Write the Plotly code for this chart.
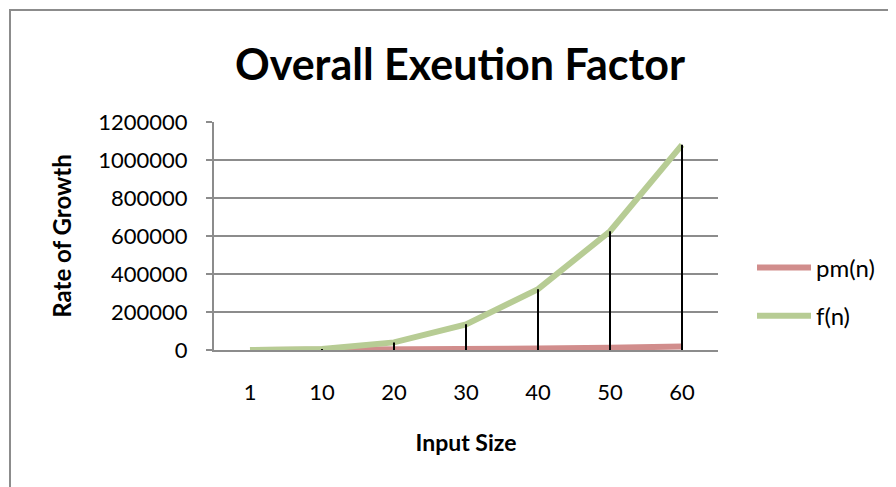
import plotly.graph_objects as go

categories = ["1", "10", "20", "30", "40", "50", "60"]
pm_values = [5, 500, 2000, 4500, 8000, 12500, 18000]
f_values = [5, 5000, 40000, 135000, 320000, 625000, 1080000]
y_ticks = [0, 200000, 400000, 600000, 800000, 1000000, 1200000]

FONT = "Lato"
RED = "rgb(209,141,140)"
GREEN = "rgb(183,204,148)"
GRID = "#8c8c8c"

# the page body adds an 8px offset; figure coords below are target - 8
L, R, T, B = 206, 186, 114, 145
PW, PH = 896 - L - R, 487 - T - B

fig = go.Figure()
fig.add_trace(go.Scatter(x=categories, y=pm_values, mode="lines", name="pm(n)",
                         line=dict(color=RED, width=6), legendgroup="a"))
fig.add_trace(go.Scatter(x=categories, y=f_values, mode="lines", name="f(n)",
                         line=dict(color=GREEN, width=6), legendgroup="b"))

# drop lines from the highest series down to the axis
dx, dy = [], []
for c, a, b in zip(categories, pm_values, f_values):
    dx += [c, c, None]
    dy += [0, max(a, b), None]
fig.add_trace(go.Scatter(x=dx, y=dy, mode="lines", line=dict(color="black", width=2),
                         showlegend=False, hoverinfo="skip"))

fig.update_layout(
    width=896, height=487,
    margin=dict(l=L, r=R, t=T, b=B, autoexpand=False),
    plot_bgcolor="white", paper_bgcolor="white",
    font=dict(family=FONT, size=22, color="black"),
    title=dict(text="<b>Overall Exeution Factor</b>", x=452 / 896, xanchor="center",
               y=1 - 57 / 487, yanchor="middle", font=dict(size=43, family=FONT)),
    showlegend=True,
    legend=dict(x=(744 - L) / PW, y=(PH - (284 - T)) / PH, xanchor="left", yanchor="middle",
                traceorder="grouped", tracegroupgap=14, itemwidth=54,
                font=dict(size=24, family=FONT)),
    xaxis=dict(type="category", categoryorder="array", categoryarray=categories,
               range=[-0.5, 6.5], showgrid=False, showline=True, linecolor=GRID,
               linewidth=2, ticks="", ticklabelstandoff=22, tickfont=dict(size=22),
               title=dict(text="<b>Input Size</b>", font=dict(size=23), standoff=30)),
    yaxis=dict(range=[0, 1200000], tickvals=y_ticks, ticktext=[str(v) for v in y_ticks],
               showgrid=True, gridcolor=GRID, gridwidth=2,
               showline=True, linecolor=GRID, linewidth=2,
               ticks="outside", ticklen=6, tickcolor=GRID, tickwidth=2,
               ticklabelstandoff=14, zeroline=False, tickfont=dict(size=22),
               title=dict(text="<b>Rate of Growth</b>", font=dict(size=24), standoff=20)),
    shapes=[dict(type="rect", xref="paper", yref="paper",
                 x0=(2 - L) / PW, x1=(920 - L) / PW,
                 y0=(PH - (520 - T)) / PH, y1=(PH - (2 - T)) / PH,
                 line=dict(color=GRID, width=2), layer="below")],
)

fig.write_html("out.html")
